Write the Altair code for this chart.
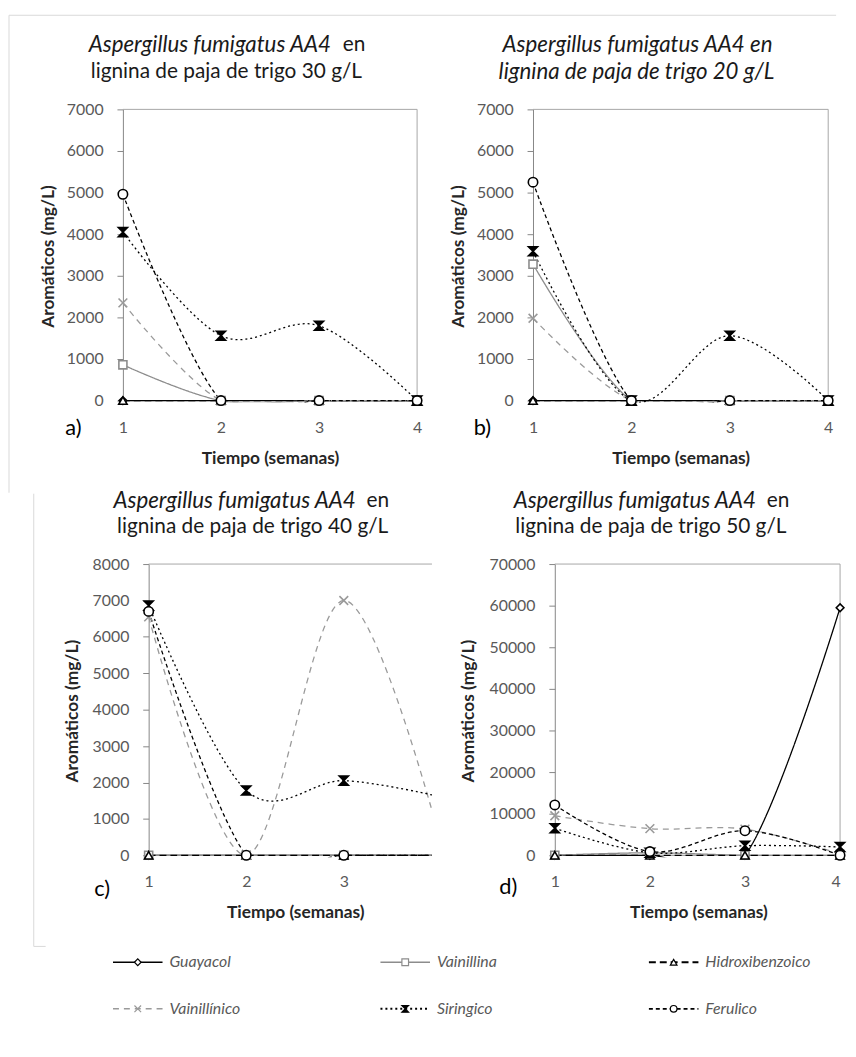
import altair as alt
import pandas as pd

weeks = [1, 2, 3, 4]
series = ["Guayacol", "Vainillina", "Hidroxibenzoico", "Vainillínico", "Siringico", "Ferulico"]

# a) 30 g/L
a_guayacol = [0, 0, 0, 0]
a_vainillina = [860, 0, 0, 0]
a_hidroxibenzoico = [0, 0, 0, 0]
a_vainillinico = [2350, 0, 0, 0]
a_siringico = [4050, 1560, 1800, 0]
a_ferulico = [4960, 0, 0, 0]
# b) 20 g/L
b_guayacol = [0, 0, 0, 0]
b_vainillina = [3280, 0, 0, 0]
b_hidroxibenzoico = [0, 0, 0, 0]
b_vainillinico = [1980, 0, 0, 0]
b_siringico = [3590, 0, 1560, 0]
b_ferulico = [5250, 0, 0, 0]
# c) 40 g/L
c_guayacol = [0, 0, 0, 0]
c_vainillina = [0, 0, 0, 0]
c_hidroxibenzoico = [0, 0, 0, 0]
c_vainillinico = [6550, 0, 7000, 300]
c_siringico = [6860, 1780, 2050, 1600]
c_ferulico = [6700, 0, 0, 0]
# d) 50 g/L
d_guayacol = [0, 0, 0, 59500]
d_vainillina = [0, 600, 0, 0]
d_hidroxibenzoico = [0, 0, 0, 0]
d_vainillinico = [9500, 6400, 6300, 300]
d_siringico = [6500, 600, 2300, 2000]
d_ferulico = [12100, 900, 5900, 0]

yticks_ab = [0, 1000, 2000, 3000, 4000, 5000, 6000, 7000]
yticks_c = [0, 1000, 2000, 3000, 4000, 5000, 6000, 7000, 8000]
yticks_d = [0, 10000, 20000, 30000, 40000, 50000, 60000, 70000]
xticks_full = [1, 2, 3, 4]
xticks_c = [1, 2, 3]

# styles
FONT = "Lato"
H = 296
TFS = 21      # title font size (upright)
TFS_I = 22.5  # title font size (italic)
AFS = 17.5    # axis title font size
X_PATH = "M-1,-1L1,1M-1,1L1,-1"
HOURGLASS = "M-1,-1L1,-1L-1,1L1,1Z"
line_colors = ["#000000", "#8c8c8c", "#000000", "#9a9a9a", "#000000", "#000000"]
dashes = [[1, 0], [1, 0], [7, 4], [6, 5], [2, 3], [4, 3]]
widths = [1.3, 1.3, 1.8, 1.5, 2.4, 1.8]
shapes = ["diamond", "square", "triangle-up", X_PATH, HOURGLASS, "circle"]
fills = ["#ffffff", "#ffffff", "#ffffff", "#9a9a9a", "#000000", "#ffffff"]
strokes = ["#000000", "#8c8c8c", "#000000", "#9a9a9a", "#000000", "#000000"]
sizes = [60, 90, 70, 70, 90, 100]


def table(cols):
    rows = []
    for s, vals in zip(series, cols):
        for w, v in zip(weeks, vals):
            rows.append({"series": s, "week": w, "value": v})
    return pd.DataFrame(rows)


one = pd.DataFrame({"k": [0]})


def text_layer(txt, x, y, size=17, italic=False, align="center", color="#1a1a1a"):
    return alt.Chart(one).mark_text(
        text=txt, font=FONT, fontSize=size, fontStyle="italic" if italic else "normal",
        align=align, baseline="middle", color=color
    ).encode(x=alt.value(x), y=alt.value(y))


def vrule(x, y1, y2, color="#d9d9d9", width=1):
    return alt.Chart(one).mark_rule(color=color, strokeWidth=width).encode(
        x=alt.value(x), y=alt.value(y1), y2=alt.value(y2))


def hrule(x1, x2, y, color="#d9d9d9", width=1, dash=None):
    kw = dict(color=color, strokeWidth=width)
    if dash is not None:
        kw["strokeDash"] = dash
    return alt.Chart(one).mark_rule(**kw).encode(
        x=alt.value(x1), x2=alt.value(x2), y=alt.value(y))


def panel(df, ymax, yticks, xlo, xhi, width, xvals, yoff, ytx, xtx, texts, extra=(),
          flush=False):
    ymin = -ymax * 2 / 294
    xs = alt.Scale(domain=[xlo, xhi], nice=False, zero=False)
    ys = alt.Scale(domain=[ymin, ymax], nice=False, zero=False)
    xaxis = alt.Axis(values=xvals, format="d", grid=False, domain=False, ticks=False,
                     labelPadding=25, labelBaseline="middle", labelFont=FONT,
                     labelFontSize=16, labelColor="#595959", labelFlush=flush,
                     labelOverlap=False, title="Tiempo (semanas)", titleFont=FONT,
                     titleFontSize=AFS, titleFontWeight="bold", titleColor="#262626",
                     titleX=xtx, titleY=56, titleAlign="center", titleBaseline="middle")
    yaxis = alt.Axis(values=yticks, format="d", grid=False, domainColor="#868686",
                     tickColor="#868686", tickSize=6, labelPadding=14, labelFont=FONT,
                     labelFontSize=16, labelColor="#595959", labelFlush=False,
                     labelOverlap=False, offset=yoff, title="Aromáticos (mg/L)",
                     titleFont=FONT, titleFontSize=AFS, titleFontWeight="bold",
                     titleColor="#262626", titleX=ytx, titleY=H / 2, titleAngle=270,
                     titleAlign="center", titleBaseline="middle")
    xr = min(4, xhi)
    fx, fx2, fy, fy2 = [1], [xr], [ymax], [ymax]
    if xhi >= 4:
        fx.append(4); fx2.append(4); fy.append(0); fy2.append(ymax)
    frame = pd.DataFrame({"week": fx, "fx2": fx2, "value": fy, "fy2": fy2})
    zero = pd.DataFrame({"week": [1], "fx2": [xr], "value": [0], "fy2": [0]})

    X = alt.X("week:Q", scale=xs, axis=xaxis)
    Y = alt.Y("value:Q", scale=ys, axis=yaxis)
    zline = alt.Chart(zero).mark_rule(color="#868686", strokeWidth=1).encode(
        x=X, x2="fx2:Q", y=Y, y2="fy2:Q")
    border = alt.Chart(frame).mark_rule(color="#a6a6a6", strokeWidth=1).encode(
        x=X, x2="fx2:Q", y=Y, y2="fy2:Q")
    lines = alt.Chart(df).mark_line(interpolate="cardinal", clip=True).encode(
        x=X, y=Y,
        color=alt.Color("series:N", scale=alt.Scale(domain=series, range=line_colors), legend=None),
        strokeDash=alt.StrokeDash("series:N", scale=alt.Scale(domain=series, range=dashes), legend=None),
        strokeWidth=alt.StrokeWidth("series:N", scale=alt.Scale(domain=series, range=widths), legend=None),
    )
    points = alt.Chart(df).transform_filter(alt.datum.week <= xhi).mark_point(
        filled=True, opacity=1, strokeWidth=1.6).encode(
        x=X, y=Y,
        shape=alt.Shape("series:N", scale=alt.Scale(domain=series, range=shapes), legend=None),
        fill=alt.Fill("series:N", scale=alt.Scale(domain=series, range=fills), legend=None),
        stroke=alt.Stroke("series:N", scale=alt.Scale(domain=series, range=strokes), legend=None),
        size=alt.Size("series:N", scale=alt.Scale(domain=series, range=sizes), legend=None),
    )
    layers = [zline, border, lines, points] + [text_layer(*t) for t in texts] + list(extra)
    return alt.layer(*layers).properties(width=width, height=H)


# ---- panel a
pa = panel(
    table([a_guayacol, a_vainillina, a_hidroxibenzoico, a_vainillinico, a_siringico, a_ferulico]),
    7000, yticks_ab, 1, 4, 297, xticks_full, 0, -75, 148.5,
    [("Aspergillus fumigatus AA4", 210, -65, TFS_I, True, "right"),
     ("en", 222, -65, TFS, False, "left"),
     ("lignina de paja de trigo 30 g/L", 104.5, -38, TFS, False, "center"),
     ("a)", -50, 322, 22, False, "center", "#000000")],
    extra=[vrule(-115, -95, 387), hrule(-115, 720, -95)],
)

# ---- panel b
pb = panel(
    table([b_guayacol, b_vainillina, b_hidroxibenzoico, b_vainillinico, b_siringico, b_ferulico]),
    7000, yticks_ab, 1, 4, 298, xticks_full, 0, -75, 149,
    [("Aspergillus fumigatus AA4  en", 105.5, -65, TFS_I, True, "center"),
     ("lignina de paja de trigo 20 g/L", 104.5, -38, TFS_I, True, "center"),
     ("b)", -51, 322, 22, False, "center", "#000000")],
)

# ---- legend (drawn inside panel c's group)
leg_x = [-10, 260, 531]
leg_y = [402, 449]
legend_layers = []
for i, s in enumerate(series):
    x0 = leg_x[i % 3]
    y0 = leg_y[i // 3]
    legend_layers.append(hrule(x0, x0 + 50, y0, color=line_colors[i],
                               width=min(widths[i], 2.0), dash=dashes[i]))
    legend_layers.append(
        alt.Chart(one).mark_point(shape=shapes[i], fill=fills[i], stroke=strokes[i],
                                  filled=True, opacity=1, strokeWidth=1.2, size=45)
        .encode(x=alt.value(x0 + 25), y=alt.value(y0)))
    legend_layers.append(text_layer(s, x0 + 57, y0, 16, True, "left", "#595959"))

# ---- panel c (right part hidden behind panel d in the original)
c_unit = 98.5
c_lo = 1 - 26 / c_unit
c_hi = c_lo + 312 / c_unit
pc = panel(
    table([c_guayacol, c_vainillina, c_hidroxibenzoico, c_vainillinico, c_siringico, c_ferulico]),
    8000, yticks_c, c_lo, c_hi, 312, xticks_c, -26, -77, 174,
    [("Aspergillus fumigatus AA4", 235, -64, TFS_I, True, "right"),
     ("en", 246, -64, TFS, False, "left"),
     ("lignina de paja de trigo 40 g/L", 131, -37, TFS, False, "center"),
     ("c)", -21, 328, 22, False, "center", "#000000")],
    extra=[vrule(-90, -71, 386), hrule(-90, -78, 386)] + legend_layers,
)

# ---- panel d
d_unit = 96
d_lo = 4 - 310 / d_unit
pd_ = panel(
    table([d_guayacol, d_vainillina, d_hidroxibenzoico, d_vainillinico, d_siringico, d_ferulico]),
    70000, yticks_d, d_lo, 4, 310, xticks_full, -22, -87, 167,
    [("Aspergillus fumigatus AA4", 225, -64, TFS_I, True, "right"),
     ("en", 236, -64, TFS, False, "left"),
     ("lignina de paja de trigo 50 g/L", 119, -37, TFS, False, "center"),
     ("d)", -25, 326, 22, False, "center", "#000000")],
    flush=True,
)

chart = alt.concat(
    pa, pb, pc, pd_, columns=2, spacing={"row": 163, "column": 102},
    bounds="flush", align="all",
).properties(
    padding={"left": 0, "top": 1.5, "right": 0, "bottom": 5}
).configure_view(stroke=None)

chart.save("out.html", embed_options={"renderer": "svg", "actions": False})
